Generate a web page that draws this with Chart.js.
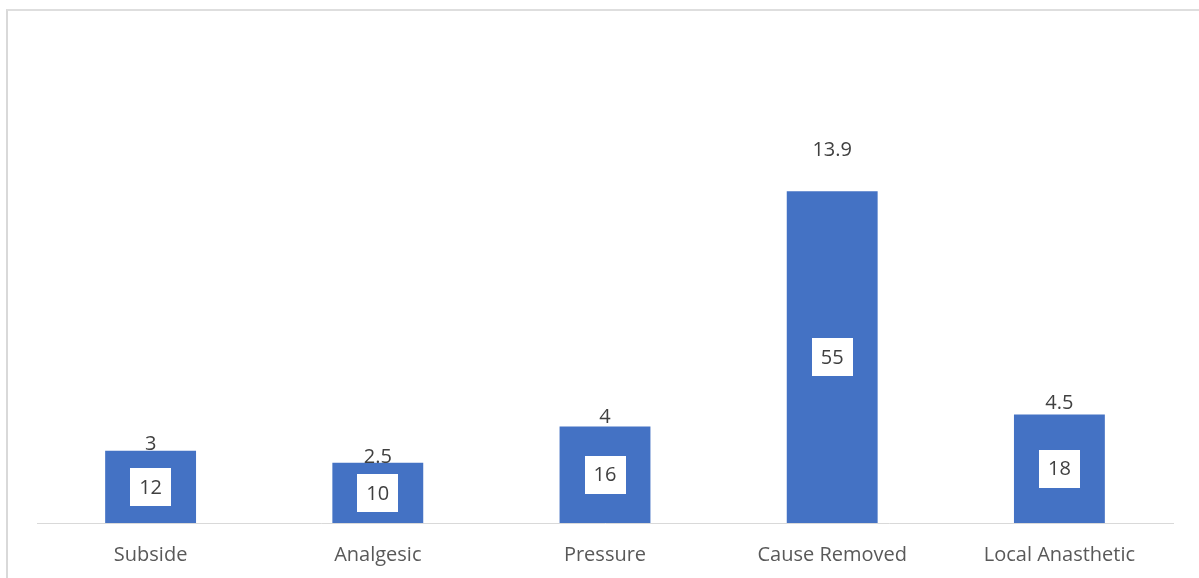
<!DOCTYPE html>
<html>
<head>
<meta charset="utf-8">
<script src="https://cdn.jsdelivr.net/npm/chart.js@4.4.1/dist/chart.umd.min.js"></script>
<style>
  html, body { margin: 0; padding: 0; background: #fff; overflow: hidden; }
  #frame {
    position: absolute; left: 6px; top: 9px; width: 1300px; height: 700px;
    border-left: 2px solid #d9d9d9; border-top: 2px solid #dedede;
  }
  #wrap { position: absolute; left: 0; top: 0; width: 1199px; height: 578px; }
</style>
</head>
<body>
<div id="frame"></div>
<div id="wrap"><canvas id="chart" width="1199" height="578"></canvas></div>
<script>
// Ways the complaint was resolved: number of cases and share in percent
const categories = ['Subside', 'Analgesic', 'Pressure', 'Cause Removed', 'Local Anasthetic'];
const caseCounts = [12, 10, 16, 55, 18];
const casePercents = [3, 2.5, 4, 13.9, 4.5];

const FONT = '"Open Sans", "Liberation Sans", sans-serif';

// Writes the count in a white box in the middle of each bar and the percent above it
const valueLabels = {
  id: 'valueLabels',
  afterDatasetsDraw(chart) {
    const ctx = chart.ctx;
    ctx.save();
    ctx.font = '20px ' + FONT;
    ctx.textAlign = 'center';
    ctx.textBaseline = 'middle';

    const bars = chart.getDatasetMeta(0).data;
    const counts = chart.data.datasets[0].data;
    bars.forEach((bar, i) => {
      const { x, y, base } = bar.getProps(['x', 'y', 'base'], true);
      const cy = (y + base) / 2;
      ctx.fillStyle = '#ffffff';
      ctx.fillRect(Math.round(x - 20.5), Math.round(cy - 19), 41, 38);
      ctx.fillStyle = '#404040';
      ctx.fillText(String(counts[i]), x, cy + 1);
    });

    const points = chart.getDatasetMeta(1).data;
    const pcts = chart.data.datasets[1].data;
    points.forEach((pt, i) => {
      ctx.fillStyle = '#404040';
      ctx.fillText(String(pcts[i]), pt.x, pt.y + 2);
    });
    ctx.restore();
  }
};

new Chart(document.getElementById('chart'), {
  data: {
    labels: categories,
    datasets: [
      {
        type: 'bar',
        label: 'Cases',
        data: caseCounts,
        backgroundColor: '#4472C4',
        barPercentage: 0.4,
        categoryPercentage: 1.0,
        yAxisID: 'y',
        order: 2
      },
      {
        type: 'line',
        label: 'Percent',
        data: casePercents,
        showLine: false,
        pointRadius: 0,
        pointHoverRadius: 0,
        yAxisID: 'y2',
        order: 1
      }
    ]
  },
  options: {
    responsive: false,
    animation: false,
    events: [],
    layout: { padding: { left: 37, right: 26, top: 43, bottom: 0 } },
    plugins: { legend: { display: false }, tooltip: { enabled: false } },
    scales: {
      x: {
        offset: true,
        grid: { display: false },
        border: { display: true, color: '#d9d9d9', width: 1 },
        ticks: {
          color: '#595959',
          font: { family: FONT, size: 20 },
          padding: 12,
          maxRotation: 0,
          autoSkip: false
        },
        afterFit(scale) { scale.height = 55; }
      },
      y: {
        display: false,
        min: 0,
        max: 79.6
      },
      y2: {
        display: false,
        min: 0,
        max: 17.8
      }
    }
  },
  plugins: [valueLabels]
});
</script>
</body>
</html>
